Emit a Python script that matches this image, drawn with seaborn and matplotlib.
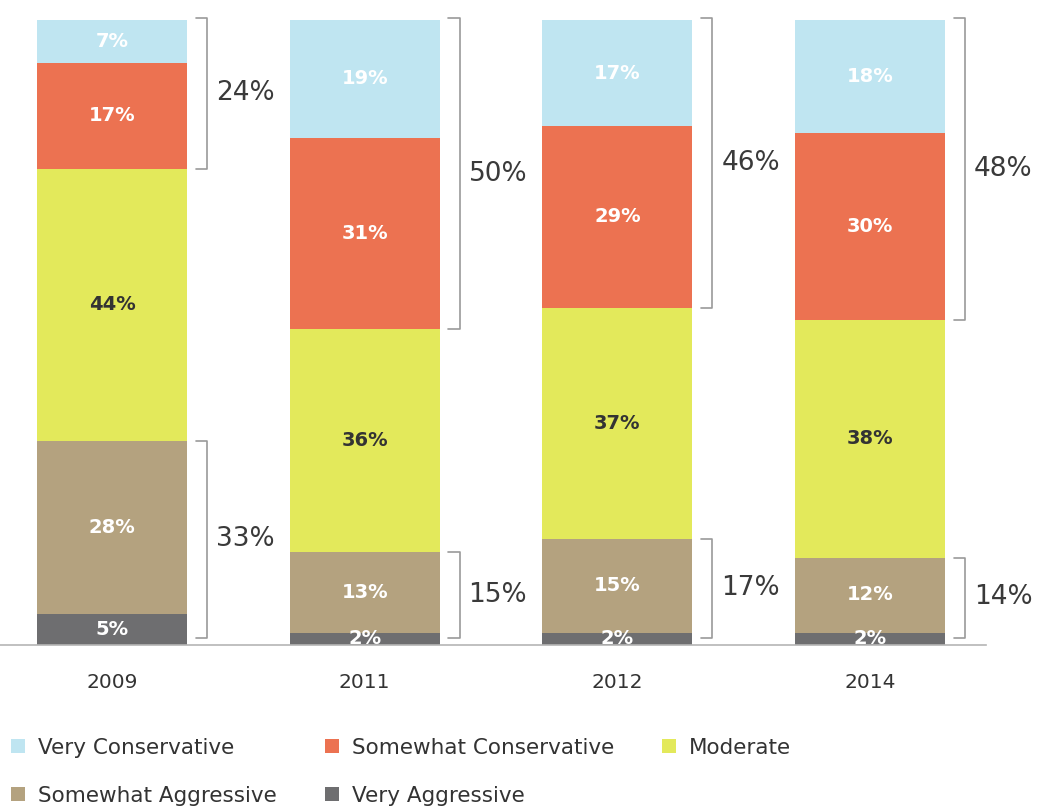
import matplotlib
matplotlib.use("Agg")
import matplotlib.pyplot as plt
from matplotlib.patches import Patch
import numpy as np
import pandas as pd
import seaborn as sns

sns.set_theme(style="white")
plt.rcParams["font.family"] = ["DejaVu Sans"]

# data
years = ["2009", "2011", "2012", "2014"]
very_aggressive = [5, 2, 2, 2]
somewhat_aggressive = [28, 13, 15, 12]
moderate = [44, 36, 37, 38]
somewhat_conservative = [17, 31, 29, 30]
very_conservative = [7, 19, 17, 18]

layers = ["Very Aggressive", "Somewhat Aggressive", "Moderate",
          "Somewhat Conservative", "Very Conservative"]
colors = {
    "Very Aggressive": "#6e6e70",
    "Somewhat Aggressive": "#b4a27f",
    "Moderate": "#e3e95b",
    "Somewhat Conservative": "#ec7251",
    "Very Conservative": "#bfe5f1",
}
label_colors = {
    "Very Aggressive": "white",
    "Somewhat Aggressive": "white",
    "Moderate": "#333333",
    "Somewhat Conservative": "white",
    "Very Conservative": "white",
}

df = pd.DataFrame({
    "year": years,
    "Very Aggressive": very_aggressive,
    "Somewhat Aggressive": somewhat_aggressive,
    "Moderate": moderate,
    "Somewhat Conservative": somewhat_conservative,
    "Very Conservative": very_conservative,
})
# bars fill the full height -> scale each year to 100
totals = df[layers].sum(axis=1)
scaled = df[layers].div(totals, axis=0) * 100

fig = plt.figure(figsize=(10.39, 8.09), dpi=100)
ax = fig.add_axes([0, 1 - 645 / 809, 1, (645 - 20) / 809])

bw = 0.594
bottoms = np.zeros(len(years))
for layer in layers:
    sns.barplot(x=df["year"], y=scaled[layer], color=colors[layer], width=bw,
                bottom=bottoms, errorbar=None, saturation=1, ax=ax,
                linewidth=0)
    for i, (b, h, v) in enumerate(zip(bottoms, scaled[layer], df[layer])):
        ax.text(i, b + h / 2, f"{v}%", ha="center", va="center",
                fontsize=14, fontweight="bold", color=label_colors[layer])
    bottoms = bottoms + scaled[layer].values

# brackets
top_sum = df["Very Conservative"] + df["Somewhat Conservative"]
bot_sum = df["Very Aggressive"] + df["Somewhat Aggressive"]
top_lo = 100 - scaled["Very Conservative"] - scaled["Somewhat Conservative"]
bot_hi = scaled["Very Aggressive"] + scaled["Somewhat Aggressive"]
bx_off = 0.376
tick = 0.045
for i in range(len(years)):
    for lo, hi, val in [(top_lo[i], 100.3, top_sum[i]), (1.2, bot_hi[i], bot_sum[i])]:
        x = i + bx_off
        ax.plot([x - tick, x, x, x - tick], [hi, hi, lo, lo], color="#9a9a9a",
                lw=1.2, clip_on=False)
        ax.text(x + 0.035, (lo + hi) / 2, f"{val}%", ha="left", va="center",
                fontsize=19, color="#3a3a3a")

ax.set_xlim(-0.443, 3.668)
ax.set_ylim(0, 100)
ax.set_xlabel("")
ax.set_ylabel("")
ax.set_yticks([])
ax.tick_params(axis="x", length=0, pad=20, labelsize=14.5, labelcolor="#333333")
for s in ["top", "left", "right"]:
    ax.spines[s].set_visible(False)
ax.spines["bottom"].set_color("#b5b5b5")
ax.spines["bottom"].set_linewidth(1.2)
ax.spines["bottom"].set_bounds(-0.443, 3.46)
ax.patch.set_alpha(0)

order = ["Very Conservative", "Somewhat Aggressive", "Somewhat Conservative",
         "Very Aggressive", "Moderate"]
handles = [Patch(facecolor=colors[k], edgecolor="none", label=k) for k in order]
fig.legend(handles=handles, loc="upper left", bbox_to_anchor=(0.0, 1 - 727 / 809),
           ncol=3, frameon=False, fontsize=15.5, handlelength=0.65, handleheight=0.65,
           handletextpad=0.6, columnspacing=2.25, labelspacing=1.3, borderpad=0,
           labelcolor="#333333")

fig.savefig("out.png", dpi=100)
